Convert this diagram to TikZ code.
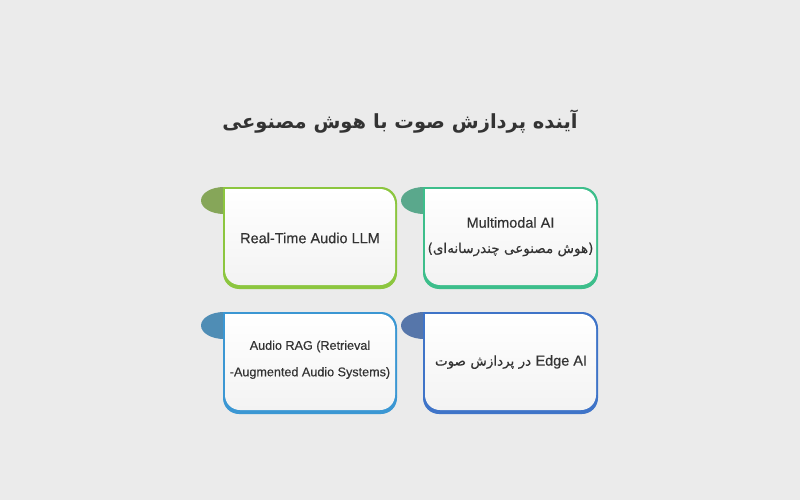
\documentclass[tikz,border=0pt]{standalone}
\usepackage{fontspec}
\setmainfont{Liberation Sans}
\newfontfamily\medfont{Liberation Sans}[FakeBold=0.4]
\newfontfamily\fafont[Script=Arabic,FakeBold=0.35]{DejaVu Sans}
\newfontfamily\fatitle[Script=Arabic]{DejaVu Sans Bold}
\TeXXeTstate=1
\definecolor{bg}{HTML}{EBEBEB}
\definecolor{txt}{HTML}{333333}
\definecolor{cA}{HTML}{8CC63F}\definecolor{tA}{HTML}{86A659}
\definecolor{cB}{HTML}{3DBE8B}\definecolor{tB}{HTML}{5AA88C}
\definecolor{cC}{HTML}{3B97D3}\definecolor{tC}{HTML}{4F8DB5}
\definecolor{cD}{HTML}{3F74C8}\definecolor{tD}{HTML}{5676AA}
\definecolor{cardlo}{HTML}{F3F3F3}
\tikzset{
  cardtext/.style={text=txt, font=\medfont\fontsize{14.5}{18}\selectfont, align=center},
  smalltext/.style={text=txt, font=\medfont\fontsize{12.6}{16}\selectfont, align=center},
}
% #1 left x, #2 top y, #3 right x, #4 bottom y, #5 border colour, #6 tab colour
\newcommand{\mycard}[6]{%
  \fill[#6] (#1+1,#2+13.5) ellipse[x radius=23, y radius=13.5];
  \fill[#5, rounded corners=16] (#1,#2) -- (#3,#2) -- (#3,#4) -- (#1,#4) -- (#1,#2);
  \shade[top color=white, bottom color=cardlo, rounded corners=15]
    (#1+2,#2+2) -- (#3-2,#2+2) -- (#3-2,#4-4) -- (#1+2,#4-4) -- (#1+2,#2+2);
}
\begin{document}
\begin{tikzpicture}[x=1pt,y=-1pt]
\fill[bg] (0,0) rectangle (800,500);
\useasboundingbox (0,0) rectangle (800,500);

\node[text=txt, font=\fatitle\fontsize{19.5}{24}\selectfont] (title) at (400,122)
  {\beginR آینده پردازش صوت با هوش مصنوعی\endR};

\mycard{223}{187}{397}{289}{cA}{tA}
\mycard{423}{187}{598}{289}{cB}{tB}
\mycard{223}{312}{397}{414}{cC}{tC}
\mycard{423}{312}{598}{414}{cD}{tD}

\node[cardtext] (n1) at (310,238) {Real-Time Audio LLM};
\node[cardtext] (n2a) at (510.5,222.5) {Multimodal AI};
\node[cardtext, font=\fafont\fontsize{13.5}{16}\selectfont] (n2b) at (510.5,249.5)
  {\beginR(هوش مصنوعی چندرسانه‌ای)\endR};
\node[smalltext] (n3a) at (310,346.5) {Audio RAG (Retrieval};
\node[smalltext] (n3b) at (310,373) {-Augmented Audio Systems)};
\node[cardtext] (n4) at (511,362)
  {\fafont\fontsize{13.5}{16}\selectfont\beginR\beginL{\medfont\fontsize{14.5}{18}\selectfont Edge AI}\endL{} در پردازش صوت\endR};
\end{tikzpicture}
\end{document}
